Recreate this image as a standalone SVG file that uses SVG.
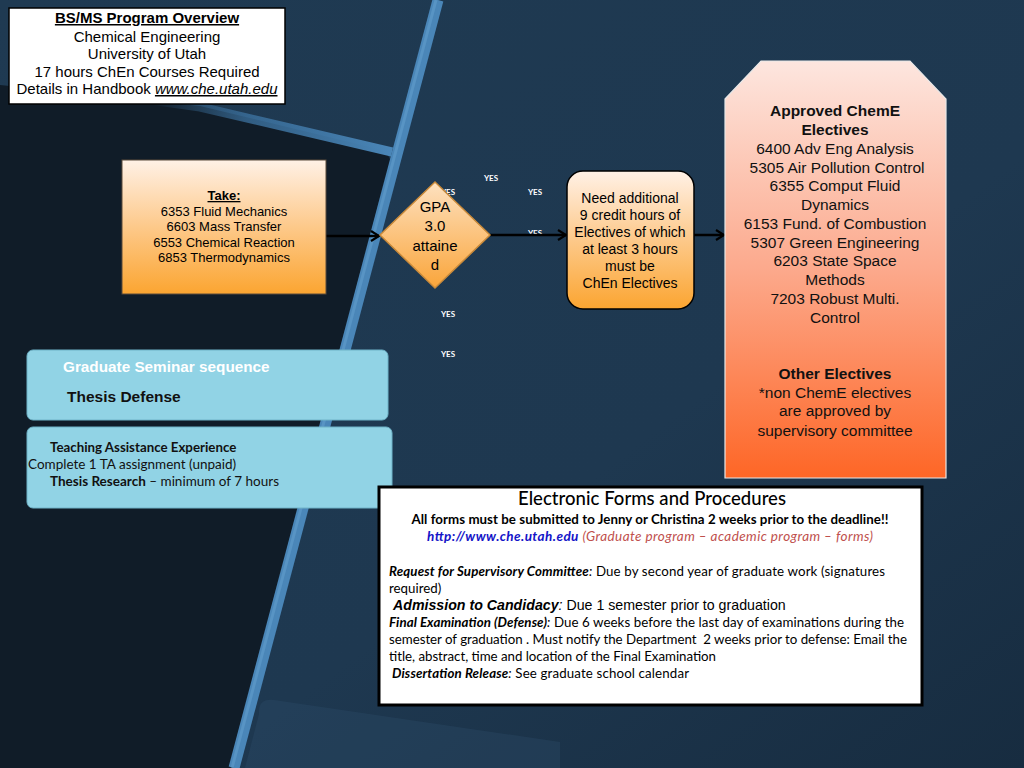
<svg xmlns="http://www.w3.org/2000/svg" width="1024" height="768" viewBox="0 0 1024 768">
<defs>
<linearGradient id="bgGrad" x1="0" y1="0" x2="1" y2="1">
<stop offset="0" stop-color="#1f3a52"/>
<stop offset="0.6" stop-color="#1e3850"/>
<stop offset="1" stop-color="#172c40"/>
</linearGradient>
<linearGradient id="bandGrad" x1="0" y1="0" x2="1" y2="0">
<stop offset="0" stop-color="#3f78a8" stop-opacity="0"/>
<stop offset="0.4" stop-color="#3f78a8" stop-opacity="0.7"/>
<stop offset="1" stop-color="#4a86b8" stop-opacity="1"/>
</linearGradient>
<linearGradient id="orangeGrad" x1="0" y1="0" x2="0" y2="1">
<stop offset="0" stop-color="#fff1e6"/>
<stop offset="0.5" stop-color="#fdc98a"/>
<stop offset="1" stop-color="#fba531"/>
</linearGradient>
<linearGradient id="diamondGrad" x1="0" y1="0" x2="0" y2="1">
<stop offset="0" stop-color="#fde1c0"/>
<stop offset="1" stop-color="#faa53a"/>
</linearGradient>
<linearGradient id="pinkGrad" x1="0" y1="0" x2="0" y2="1">
<stop offset="0" stop-color="#fde6df"/>
<stop offset="0.5" stop-color="#fca98c"/>
<stop offset="1" stop-color="#fe6626"/>
</linearGradient>
<marker id="arrow" viewBox="0 0 12 12" refX="10" refY="6" markerWidth="12" markerHeight="12" markerUnits="userSpaceOnUse" orient="auto">
<polyline points="2,1 10,6 2,11" fill="none" stroke="#000" stroke-width="2.2"/>
</marker>
<style>
.arial{font-family:"Liberation Sans",Arial,sans-serif;}
.cal{font-family:Lato,"Open Sans",sans-serif;}
.yes{font-family:Lato,"Liberation Sans",sans-serif;font-size:8px;font-weight:bold;fill:#ffffff;text-anchor:middle;}
.conn{stroke:#000;stroke-width:2.5;fill:none;}
.blue{fill:#91d3e5;stroke:#6fb3c8;stroke-width:1;}
</style>
</defs>

<!-- background -->
<rect x="0" y="0" width="1024" height="768" fill="url(#bgGrad)"/>
<path d="M0,85 L200,106 L378,149 Q393,154 390,168 L232,768 L0,768 Z" fill="#101c28"/>
<path d="M274,700 Q258,698 259,714 L245,768 L560,768 L560,742 Z" fill="#2e4e6a" opacity="0.35"/>
<path d="M150,100 L200,107 L392,152" stroke="url(#bandGrad)" stroke-width="9" fill="none"/>
<path d="M438,0 L234,768" stroke="#4a86b8" stroke-width="11" fill="none"/>
<path d="M436,0 L232,768" stroke="#66a2d0" stroke-width="3" fill="none" opacity="0.5"/>

<!-- title box -->
<g id="title">
<rect x="9" y="8" width="276" height="96" fill="#ffffff" stroke="#000" stroke-width="1.5"/>
<text class="arial" x="147" y="23" font-size="15" font-weight="bold" text-anchor="middle" text-decoration="underline">BS/MS Program Overview</text>
<text class="arial" x="147" y="42" font-size="15" text-anchor="middle">Chemical Engineering</text>
<text class="arial" x="147" y="59" font-size="15" text-anchor="middle">University of Utah</text>
<text class="arial" x="147" y="77" font-size="15" text-anchor="middle">17 hours ChEn Courses Required</text>
<text class="arial" x="147" y="94" font-size="15" text-anchor="middle">Details in Handbook <tspan font-style="italic" text-decoration="underline">www.che.utah.edu</tspan></text>
</g>

<!-- YES labels (behind shapes) -->
<g id="yes-labels">
<text class="yes" x="491" y="181">YES</text>
<text class="yes" x="448" y="195">YES</text>
<text class="yes" x="535" y="195">YES</text>
<text class="yes" x="535" y="236">YES</text>
<text class="yes" x="448" y="317">YES</text>
<text class="yes" x="448" y="357">YES</text>
</g>

<!-- connectors -->
<g id="connectors">
<line class="conn" x1="326" y1="236" x2="379" y2="236" marker-end="url(#arrow)"/>
<line class="conn" x1="490" y1="235" x2="566" y2="235" marker-end="url(#arrow)"/>
<line class="conn" x1="694" y1="235" x2="724" y2="235" marker-end="url(#arrow)"/>
</g>

<!-- Take box -->
<g id="take">
<rect x="122" y="160" width="204" height="134" fill="url(#orangeGrad)" stroke="#5a4a3a" stroke-width="1"/>
<text class="arial" x="224" y="200" font-size="13" font-weight="bold" text-anchor="middle" text-decoration="underline">Take:</text>
<text class="arial" x="224" y="216" font-size="13" text-anchor="middle">6353 Fluid Mechanics</text>
<text class="arial" x="224" y="231" font-size="13" text-anchor="middle">6603 Mass Transfer</text>
<text class="arial" x="224" y="247" font-size="13" text-anchor="middle">6553 Chemical Reaction</text>
<text class="arial" x="224" y="262" font-size="13" text-anchor="middle">6853 Thermodynamics</text>
</g>

<!-- GPA diamond -->
<g id="gpa">
<polygon points="435,182 490,235 435,288 380,235" fill="url(#diamondGrad)" stroke="#c98a3a" stroke-width="1.5"/>
<text class="arial" x="435" y="212" font-size="15" text-anchor="middle">GPA</text>
<text class="arial" x="435" y="231" font-size="15" text-anchor="middle">3.0</text>
<text class="arial" x="435" y="251" font-size="15" text-anchor="middle">attaine</text>
<text class="arial" x="435" y="270" font-size="15" text-anchor="middle">d</text>
</g>

<!-- Need additional -->
<g id="need">
<rect x="567" y="171" width="127" height="138" rx="16" fill="url(#orangeGrad)" stroke="#000" stroke-width="1.5"/>
<text class="arial" x="630" y="203" font-size="14" text-anchor="middle">Need additional</text>
<text class="arial" x="630" y="220" font-size="14" text-anchor="middle">9 credit hours of</text>
<text class="arial" x="630" y="237" font-size="14" text-anchor="middle">Electives of which</text>
<text class="arial" x="630" y="254" font-size="14" text-anchor="middle">at least 3 hours</text>
<text class="arial" x="630" y="271" font-size="14" text-anchor="middle">must be</text>
<text class="arial" x="630" y="288" font-size="14" text-anchor="middle">ChEn Electives</text>
</g>

<!-- Electives box -->
<g id="electives">
<polygon points="725,99 761,61 910,61 946,99 946,478 725,478" fill="url(#pinkGrad)" stroke="#e8e8e8" stroke-width="1.2"/>
<g class="arial" font-size="15.5" text-anchor="middle" fill="#111">
<text x="835" y="116" font-weight="bold">Approved ChemE</text>
<text x="835" y="135" font-weight="bold">Electives</text>
<text x="835" y="154">6400 Adv Eng Analysis</text>
<text x="837" y="173">5305 Air Pollution Control</text>
<text x="835" y="191">6355 Comput Fluid</text>
<text x="835" y="210">Dynamics</text>
<text x="835" y="229">6153 Fund. of Combustion</text>
<text x="835" y="248">5307 Green Engineering</text>
<text x="835" y="266">6203 State Space</text>
<text x="835" y="285">Methods</text>
<text x="835" y="304">7203 Robust Multi.</text>
<text x="835" y="323">Control</text>
<text x="835" y="379" font-weight="bold">Other Electives</text>
<text x="835" y="398"> *non ChemE electives</text>
<text x="835" y="416">are approved by</text>
<text x="835" y="436">supervisory committee</text>
</g>
</g>

<!-- Graduate seminar -->
<g id="seminar">
<rect class="blue" x="27" y="350" width="361" height="70" rx="6"/>
<text class="arial" x="63" y="372" font-size="15.3" font-weight="bold" fill="#ffffff">Graduate Seminar sequence</text>
<text class="arial" x="67" y="402" font-size="15.5" font-weight="bold" fill="#111">Thesis Defense</text>
</g>

<!-- TA box -->
<g id="ta">
<rect class="blue" x="27" y="427" width="365" height="81" rx="6"/>
<text class="cal" x="50" y="452" font-size="13.3" font-weight="bold" fill="#111">Teaching Assistance Experience</text>
<text class="cal" x="28" y="469" font-size="13.5" fill="#111">Complete 1 TA assignment (unpaid)</text>
<text class="cal" x="50" y="486" font-size="13.5" fill="#111"><tspan font-weight="bold">Thesis Research</tspan> – minimum of 7 hours</text>
</g>

<!-- Electronic forms -->
<g id="forms">
<rect x="379" y="487" width="543" height="218" fill="#ffffff" stroke="#000" stroke-width="3"/>
<text class="cal" x="652" y="505" font-size="18.5" font-weight="500" text-anchor="middle" fill="#000" textLength="268">Electronic Forms and Procedures</text>
<text class="cal" x="650" y="524" font-size="13.3" font-weight="bold" text-anchor="middle" fill="#000" textLength="477">All forms must be submitted to Jenny or Christina 2 weeks prior to the deadline!!</text>
<text class="cal" x="650" y="541" font-size="13.5" font-style="italic" font-weight="bold" text-anchor="middle" textLength="446"><tspan fill="#1414c8">http://www.che.utah.edu</tspan><tspan fill="#c0504d" font-weight="normal"> (Graduate program – academic program – forms)</tspan></text>
<g class="cal" font-size="13.3" fill="#000">
<text x="389" y="576" textLength="496"><tspan font-weight="bold" font-style="italic">Request for Supervisory Committee</tspan><tspan font-style="italic">:</tspan> Due by second year of graduate work (signatures</text>
<text x="389" y="593">required)</text>
<text x="393" y="610" class="arial" font-size="14.2"><tspan font-weight="bold" font-style="italic">Admission to Candidacy</tspan><tspan font-style="italic">:</tspan>  Due 1 semester prior to graduation</text>
<text x="389" y="627" textLength="515"><tspan font-weight="bold" font-style="italic">Final Examination (Defense)</tspan><tspan font-style="italic">:</tspan> Due 6 weeks before the last day of examinations during the</text>
<text x="389" y="644" xml:space="preserve" textLength="518">semester of graduation . Must notify the Department  2 weeks prior to defense: Email the</text>
<text x="389" y="661" textLength="327">title, abstract, time and location of the Final Examination</text>
<text x="392" y="678" textLength="297"><tspan font-weight="bold" font-style="italic">Dissertation Release</tspan><tspan font-style="italic">:</tspan> See graduate school calendar</text>
</g>
</g>
</svg>
